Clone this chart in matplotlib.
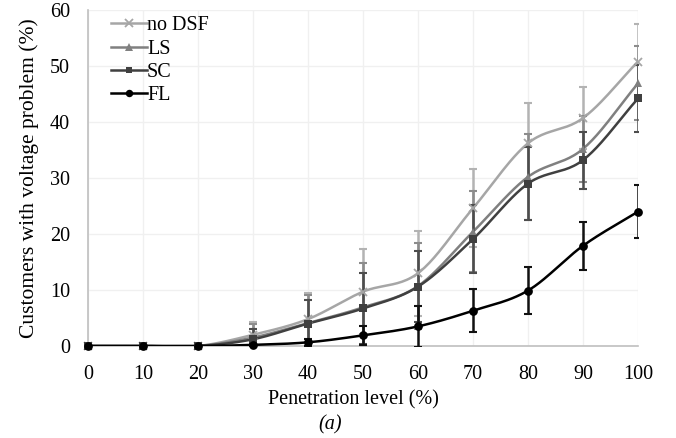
import numpy as np
import matplotlib
matplotlib.use("Agg")
import matplotlib.pyplot as plt
from matplotlib.lines import Line2D

plt.rcParams['font.family'] = ['Liberation Serif', 'DejaVu Serif']

penetration = [0, 10, 20, 30, 40, 50, 60, 70, 80, 90, 100]
no_dsf = [0, 0, 0, 2.0, 4.8, 9.7, 13.0, 24.6, 36.2, 40.7, 50.8]
ls = [0, 0, 0, 1.5, 4.1, 6.9, 10.7, 20.4, 30.2, 35.2, 46.9]
sc = [0, 0, 0, 1.2, 4.0, 6.7, 10.6, 19.1, 29.0, 33.2, 44.2]
fl = [0, 0, 0, 0.2, 0.66, 1.9, 3.5, 6.3, 9.9, 17.9, 24.0]

no_dsf_err = [0, 0, 0, 2.3, 4.7, 7.6, 7.6, 7.0, 7.2, 5.6, 6.7]
ls_err = [0, 0, 0, 2.4, 5.0, 8.0, 7.7, 7.2, 7.7, 5.9, 6.6]
sc_err = [0, 0, 0, 1.8, 4.2, 6.4, 6.4, 6.0, 6.5, 5.1, 5.9]
fl_err = [0, 0, 0, 0.3, 0.6, 1.7, 3.7, 3.8, 4.2, 4.3, 4.8]

labels = ['no DSF', 'LS', 'SC', 'FL']
x_ticks = [0, 10, 20, 30, 40, 50, 60, 70, 80, 90, 100]
y_ticks = [0, 10, 20, 30, 40, 50, 60]


def smooth(x, y, n=24):
    x = np.asarray(x, float)
    y = np.asarray(y, float)
    px = np.concatenate([[2 * x[0] - x[1]], x, [2 * x[-1] - x[-2]]])
    py = np.concatenate([[2 * y[0] - y[1]], y, [2 * y[-1] - y[-2]]])
    xs, ys = [], []
    t = np.linspace(0, 1, n, endpoint=False)
    for i in range(1, len(px) - 2):
        for arr, out in ((px, xs), (py, ys)):
            p0, p1, p2, p3 = arr[i - 1], arr[i], arr[i + 1], arr[i + 2]
            out.extend(0.5 * ((2 * p1) + (-p0 + p2) * t
                              + (2 * p0 - 5 * p1 + 4 * p2 - p3) * t ** 2
                              + (-p0 + 3 * p1 - 3 * p2 + p3) * t ** 3))
    xs.append(x[-1])
    ys.append(y[-1])
    return np.array(xs), np.array(ys)


fig = plt.figure(figsize=(6.76, 4.38), dpi=100)
ax = fig.add_axes([88 / 676, 1 - 346 / 438, 550 / 676, 336 / 438])

series = [
    (no_dsf, no_dsf_err, '#a6a6a6', '#b3b3b3', 'x', 6.2, 1.3),
    (ls, ls_err, '#808080', '#8c8c8c', '^', 6.4, 0),
    (sc, sc_err, '#404040', '#4d4d4d', 's', 5.8, 0),
    (fl, fl_err, '#000000', '#111111', 'o', 6.3, 0),
]

handles = []
for (vals, err, col, ecol, mk, ms, mew), lab in zip(series, labels):
    sx, sy = smooth(penetration, vals)
    ax.plot(sx, sy, color=col, lw=1.8, zorder=3)
    ax.errorbar(penetration, vals, yerr=err, fmt='none', ecolor=ecol,
                elinewidth=1.8, capsize=2.7, capthick=1.5, zorder=4)
    ax.plot(penetration, vals, ls='none', marker=mk, ms=ms, mew=mew,
            color=col, zorder=5, clip_on=False)
    handles.append(Line2D([], [], color=col, lw=1.8, marker=mk,
                          ms=ms * 0.85, mew=mew))

ax.set_xlim(0, 100)
ax.set_ylim(0, 60)
ax.set_xticks(x_ticks)
ax.set_yticks(y_ticks)
ax.tick_params(length=0, labelsize=14.5)
ax.tick_params(axis='x', pad=14)
ax.tick_params(axis='y', pad=13)
ax.grid(True, color='#f0f0f0', lw=1)
ax.set_axisbelow(True)
for s in ['top', 'right']:
    ax.spines[s].set_visible(False)
for s in ['left', 'bottom']:
    ax.spines[s].set_color('#bfbfbf')
    ax.spines[s].set_linewidth(1.2)

ax.set_xlabel('Penetration level (%)', fontsize=14.5, labelpad=4,
              x=(353.7 - 88) / 550)
ax.set_ylabel('Customers with voltage problem (%)', fontsize=15.5, labelpad=8)
fig.text(330 / 676, 1 - 425 / 438,
         '(a)', fontsize=14.5, style='italic', ha='center', va='center')

ax.legend(handles, labels, loc='upper left', frameon=False, fontsize=14.5,
          handlelength=1.75, handletextpad=0.02, labelspacing=0.2,
          borderaxespad=0.0, bbox_to_anchor=(0.028, 1.005))

fig.savefig('out.png', dpi=100)
